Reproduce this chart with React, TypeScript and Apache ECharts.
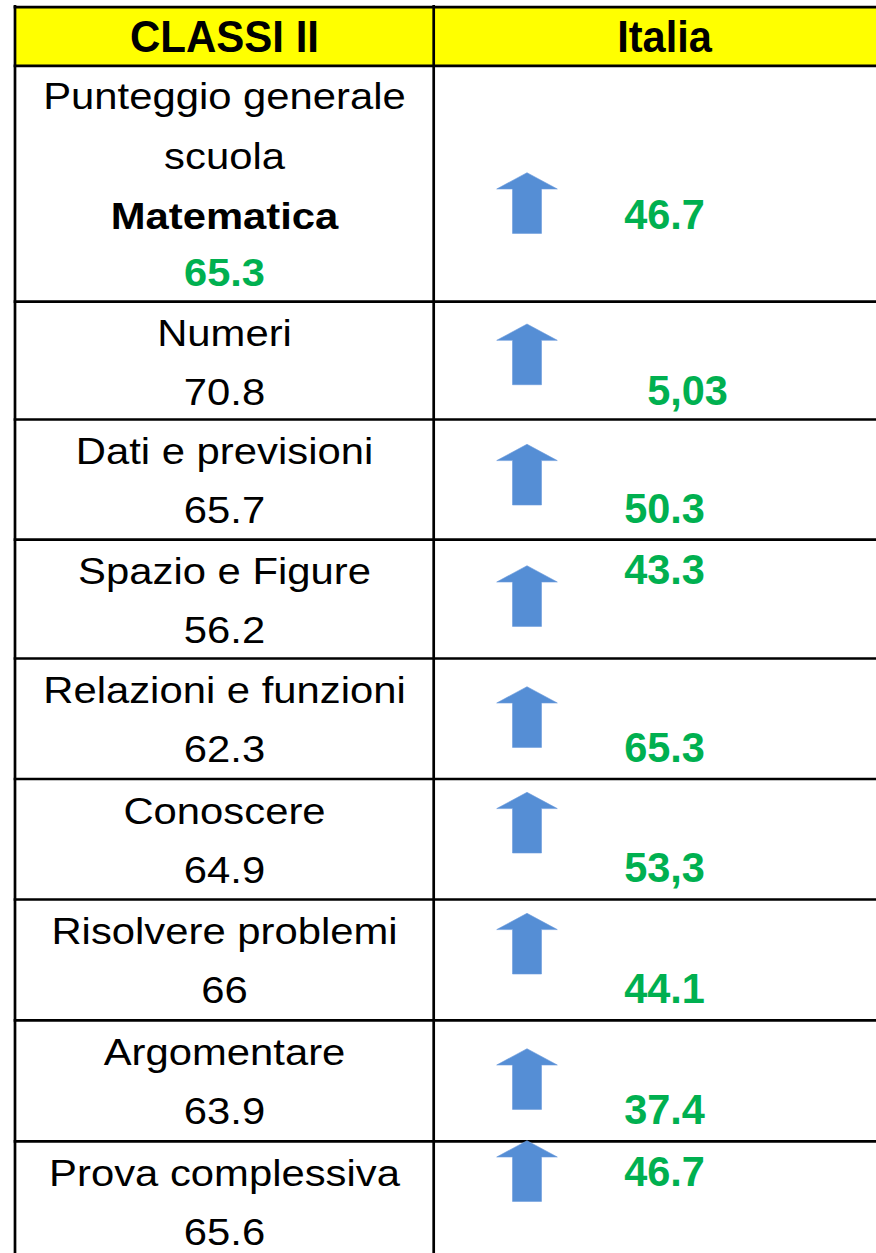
import React, { useEffect, useRef } from "react";
import * as echarts from "echarts";

// ---- data ----
const headerLeft = "CLASSI II";
const headerRight = "Italia";
const generalLabelLines = ["Punteggio generale", "scuola"];
const subjectLabel = "Matematica";
const rowLabels = [
  "Numeri",
  "Dati e previsioni",
  "Spazio e Figure",
  "Relazioni e funzioni",
  "Conoscere",
  "Risolvere problemi",
  "Argomentare",
  "Prova complessiva",
];
const schoolScores = ["65.3", "70.8", "65.7", "56.2", "62.3", "64.9", "66", "63.9", "65.6"];
const italiaScores = ["46.7", "5,03", "50.3", "43.3", "65.3", "53,3", "44.1", "37.4", "46.7"];
const trendUp = [true, true, true, true, true, true, true, true, true];

// ---- layout (not data) ----
const W = 876;
const H = 1253;
const FONT = '"Liberation Sans", Arial, Helvetica, sans-serif';
const LW = 2.7;
const leftX = 15;
const dividerX = 433.7;
const topY = 7.2;
const headerBottomY = 65.8;
const rowLines = [301.7, 419.5, 539.7, 658.5, 779, 899.5, 1020.3, 1141.3];
const arrowTips = [172.7, 324, 444.3, 565.7, 686.7, 792.3, 913.3, 1048.7, 1140.7];
// which text line (0 = first, 1 = second) the Italia value sits on, rows 2..9
const italiaLine = [1, 1, 0, 1, 1, 1, 1, 0];
const italiaXShift = [0, 23, 0, 0, 0, 0, 0, 0, 0];
const col1X = 224.5;
const col2X = 664.5;
const GREEN = "#00B050";
const BLUE = "#558ED5";

const mid = (baseline: number, size: number) => baseline - 0.35 * size;

function txt(text: string, x: number, baseline: number, size: number, bold: boolean, fill: string, scaleX: number) {
  return {
    type: "text",
    x,
    y: mid(baseline, size),
    scaleX,
    silent: true,
    style: {
      text,
      x: 0,
      y: 0,
      fill,
      font: `${bold ? "bold " : ""}${size}px ${FONT}`,
      textAlign: "center",
      textVerticalAlign: "middle",
    },
  };
}

function arrow(tx: number, ty: number) {
  const hw = 30.3;
  const hh = 16.3;
  const sw = 14.5;
  const th = 60.7;
  return {
    type: "polygon",
    silent: true,
    shape: {
      points: [
        [tx, ty],
        [tx + hw, ty + hh],
        [tx + sw, ty + hh],
        [tx + sw, ty + th],
        [tx - sw, ty + th],
        [tx - sw, ty + hh],
        [tx - hw, ty + hh],
      ],
    },
    style: { fill: BLUE, stroke: "#6C9BDB", lineWidth: 0.6 },
  };
}

function hline(y: number) {
  return {
    type: "line",
    silent: true,
    shape: { x1: leftX - LW / 2, y1: y, x2: W, y2: y },
    style: { stroke: "#000", lineWidth: LW },
  };
}

function vline(x: number) {
  return {
    type: "line",
    silent: true,
    shape: { x1: x, y1: 5, x2: x, y2: H },
    style: { stroke: "#000", lineWidth: LW },
  };
}

export default function App() {
  const ref = useRef<HTMLDivElement>(null);
  useEffect(() => {
    if (!ref.current) return;
    const chart = echarts.init(ref.current, null, { renderer: "svg" });
    const els: any[] = [];
    // header background
    els.push({
      type: "rect",
      silent: true,
      shape: { x: leftX, y: topY, width: W - leftX, height: headerBottomY - topY },
      style: { fill: "#FFFF00" },
    });
    // grid lines
    els.push(hline(topY));
    els.push(hline(headerBottomY));
    rowLines.forEach((y) => els.push(hline(y)));
    els.push(vline(leftX));
    els.push(vline(dividerX));

    // headers
    els.push(txt(headerLeft, col1X, 51.7, 44, true, "#000", 0.955));
    els.push(txt(headerRight, col2X, 51.7, 43.5, true, "#000", 0.955));

    // first row
    const nS = 37;
    const nSX = 1.13;
    els.push(txt(generalLabelLines[0], col1X, 109, nS, false, "#000", nSX));
    els.push(txt(generalLabelLines[1], col1X, 169, nS, false, "#000", nSX));
    els.push(txt(subjectLabel, col1X, 228.5, nS, true, "#000", nSX));
    els.push(txt(schoolScores[0], col1X, 286, 38.5, true, GREEN, 1.08));
    els.push(txt(italiaScores[0], col2X + italiaXShift[0], 229, 43, true, GREEN, 0.965));
    if (trendUp[0]) els.push(arrow(527, arrowTips[0]));

    // other rows
    rowLabels.forEach((label, i) => {
      const top = rowLines[i];
      const b1 = top + 44.6;
      const b2 = top + 103.5;
      els.push(txt(label, col1X, b1, nS, false, "#000", nSX));
      els.push(txt(schoolScores[i + 1], col1X, b2, nS, false, "#000", nSX));
      els.push(
        txt(italiaScores[i + 1], col2X + italiaXShift[i + 1], italiaLine[i] === 0 ? b1 : b2, 43, true, GREEN, 0.965)
      );
      if (trendUp[i + 1]) els.push(arrow(527, arrowTips[i + 1]));
    });

    chart.setOption({
      animation: false,
      backgroundColor: "#fff",
      graphic: { elements: els },
    });
    return () => chart.dispose();
  }, []);
  return (
    <div
      ref={ref}
      style={{ position: "absolute", left: 0, top: 0, width: W, height: H, background: "#fff" }}
    />
  );
}
